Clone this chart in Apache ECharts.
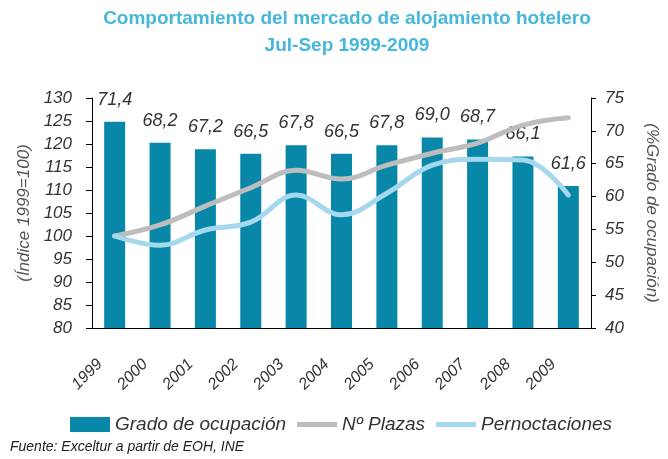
<!DOCTYPE html>
<html>
<head>
<meta charset="utf-8">
<script src="https://cdn.jsdelivr.net/npm/echarts@6/dist/echarts.min.js"></script>
<style>
  html, body { margin: 0; padding: 0; background: #fff; }
  #chart { width: 668px; height: 459px; }
</style>
</head>
<body>
<div id="chart"></div>
<script>
// datos
const years = ['1999', '2000', '2001', '2002', '2003', '2004', '2005', '2006', '2007', '2008', '2009'];
const ocupacion = [71.4, 68.2, 67.2, 66.5, 67.8, 66.5, 67.8, 69.0, 68.7, 66.1, 61.6];
const plazas = [100, 102.4, 106.5, 110.5, 114.3, 112.4, 115.4, 118, 120.2, 124.1, 125.7];
const pernoctaciones = [100, 98, 101.3, 103, 108.9, 104.6, 109.3, 115.4, 116.7, 116.5, 108.9];

const FONT = '"Liberation Sans", Arial, sans-serif';
const TXT = '#333';
// icono de leyenda para las líneas: trazo grueso centrado
const LINE_ICON = 'path://M0,0 M0,5 L40,5 L40,10 L0,10 Z M40,15';

const myChart = echarts.init(document.getElementById('chart'));

const option = {
  backgroundColor: '#fff',
  animation: false,
  title: {
    text: 'Comportamiento del mercado de alojamiento hotelero\nJul-Sep 1999-2009',
    left: 342,
    top: 0,
    textAlign: 'center',
    textStyle: {
      color: '#45b7da',
      fontFamily: FONT,
      fontWeight: 'bold',
      fontSize: 19,
      lineHeight: 27
    }
  },
  legend: {
    left: 70,
    top: 415,
    padding: 0,
    itemWidth: 40,
    itemHeight: 15,
    itemGap: 11,
    textStyle: {
      color: TXT,
      fontFamily: FONT,
      fontStyle: 'italic',
      fontSize: 19
    },
    data: [
      { name: 'Grado de ocupación', icon: 'rect' },
      { name: 'Nº Plazas', icon: LINE_ICON },
      { name: 'Pernoctaciones', icon: LINE_ICON }
    ]
  },
  graphic: [
    {
      type: 'text',
      left: 10,
      top: 440,
      style: {
        text: 'Fuente: Exceltur a partir de EOH, INE',
        fill: '#222',
        font: 'italic 14px ' + FONT
      }
    }
  ],
  grid: {
    left: 92,
    right: 76,
    top: 98,
    bottom: 131
  },
  xAxis: {
    type: 'category',
    data: years,
    axisLine: { lineStyle: { color: '#000', width: 1 } },
    axisTick: { length: 5, lineStyle: { color: '#000' } },
    axisLabel: {
      rotate: 45,
      margin: 19,
      padding: [0, 21, 0, 0],
      color: TXT,
      fontFamily: FONT,
      fontStyle: 'italic',
      fontSize: 16
    }
  },
  yAxis: [
    {
      type: 'value',
      min: 80,
      max: 130,
      interval: 5,
      name: '(Índice 1999=100)',
      nameLocation: 'middle',
      nameGap: 56,
      nameTextStyle: {
        color: '#555',
        fontFamily: FONT,
        fontStyle: 'italic',
        fontSize: 17
      },
      splitLine: { show: false },
      axisLine: { show: true, lineStyle: { color: '#000' } },
      axisTick: { show: true, length: 6, lineStyle: { color: '#000' } },
      axisLabel: {
        margin: 20,
        color: TXT,
        fontFamily: FONT,
        fontStyle: 'italic',
        fontSize: 17
      }
    },
    {
      type: 'value',
      min: 40,
      max: 75,
      interval: 5,
      position: 'right',
      name: '(%Grado de ocupación)',
      nameLocation: 'middle',
      nameGap: 52,
      nameRotate: -90,
      nameTextStyle: {
        color: '#555',
        fontFamily: FONT,
        fontStyle: 'italic',
        fontSize: 17
      },
      splitLine: { show: false },
      axisLine: { show: true, lineStyle: { color: '#000' } },
      axisTick: { show: true, length: 5, lineStyle: { color: '#000' } },
      axisLabel: {
        margin: 14,
        color: TXT,
        fontFamily: FONT,
        fontStyle: 'italic',
        fontSize: 17
      }
    }
  ],
  series: [
    {
      name: 'Grado de ocupación',
      type: 'bar',
      yAxisIndex: 1,
      data: ocupacion,
      barWidth: 21,
      itemStyle: { color: '#0887a8' },
      label: {
        show: true,
        position: 'top',
        distance: 13,
        color: TXT,
        fontFamily: FONT,
        fontStyle: 'italic',
        fontSize: 18,
        formatter: function (p) {
          return p.value.toFixed(1).replace('.', ',');
        }
      }
    },
    {
      name: 'Nº Plazas',
      type: 'line',
      yAxisIndex: 0,
      data: plazas,
      smooth: 0.4,
      symbol: 'none',
      lineStyle: { color: '#bdbdbd', width: 5, cap: 'round' },
      itemStyle: { color: '#bdbdbd' }
    },
    {
      name: 'Pernoctaciones',
      type: 'line',
      yAxisIndex: 0,
      data: pernoctaciones,
      smooth: 0.4,
      symbol: 'none',
      lineStyle: { color: '#a5d7ed', width: 5, cap: 'round' },
      itemStyle: { color: '#a5d7ed' }
    }
  ]
};

myChart.setOption(option);
</script>
</body>
</html>
